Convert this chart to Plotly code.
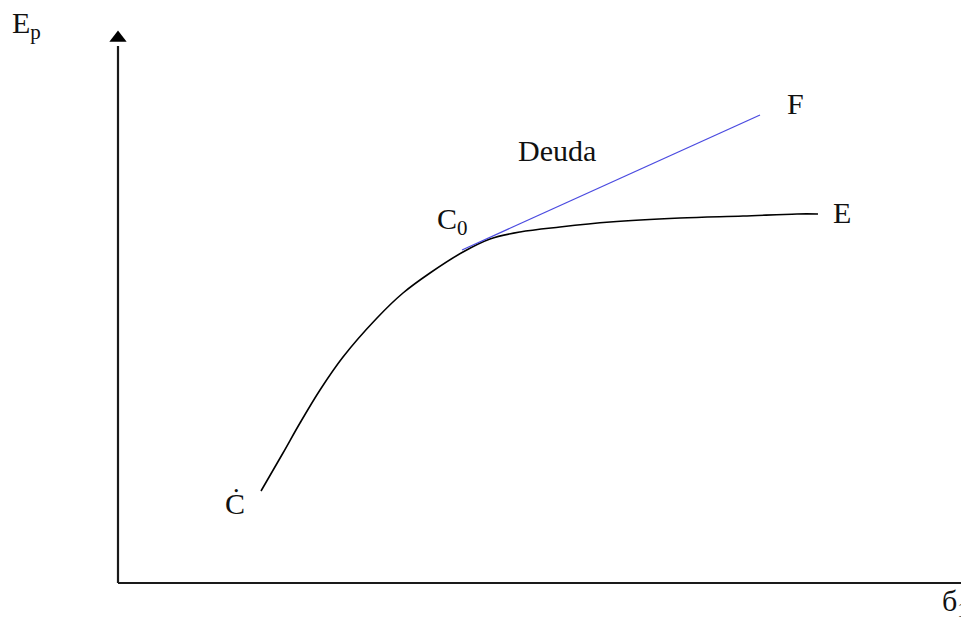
import plotly.graph_objects as go

# Data (origin at the axes corner, y upward, pixel-like units)
curve_x = [143, 165, 182, 202, 225, 259, 285, 312, 345, 372, 402, 442, 492, 562, 625, 679, 700]
curve_y = [92, 130, 160, 193, 226, 265, 290, 310, 331, 344, 351, 356, 361, 365, 367, 369, 369]
debt_x = [344, 642]
debt_y = [333, 468]
x_axis_end = 855
y_axis_end = 545

labels = ["E<sub>p</sub>", "C<sub>0</sub>", "Ċ", "Deuda", "F", "E", "б<sub>1</sub>"]
label_x = [-108, 317, 105, 398, 667, 713, 822]
label_y = [558, 362, 80, 433, 480, 371, -20]

fig = go.Figure()

# axes
fig.add_trace(go.Scatter(x=[0, 0], y=[0, y_axis_end - 8], mode="lines",
                         line=dict(color="#1a1a1a", width=2.2), hoverinfo="skip"))
fig.add_trace(go.Scatter(x=[0, x_axis_end - 6], y=[0, 0], mode="lines",
                         line=dict(color="#1a1a1a", width=2.2), hoverinfo="skip",
                         cliponaxis=False))
fig.add_trace(go.Scatter(x=[0], y=[y_axis_end], mode="markers",
                         marker=dict(symbol="triangle-up", size=15, color="#000"),
                         hoverinfo="skip"))
fig.add_trace(go.Scatter(x=[x_axis_end], y=[0], mode="markers",
                         marker=dict(symbol="triangle-right", size=15, color="#000"),
                         hoverinfo="skip", cliponaxis=False))

# curve C - C0 - E
fig.add_trace(go.Scatter(x=curve_x, y=curve_y, mode="lines",
                         line=dict(color="#000", width=1.6, shape="spline", smoothing=1.0),
                         hoverinfo="skip"))
# debt line C0 - F
fig.add_trace(go.Scatter(x=debt_x, y=debt_y, mode="lines",
                         line=dict(color="#4b4be0", width=1.3), hoverinfo="skip"))

for t, lx, ly in zip(labels, label_x, label_y):
    fig.add_annotation(x=lx, y=ly, text=t, showarrow=False, xanchor="left", yanchor="middle",
                       font=dict(family="Liberation Serif", size=30, color="#111"))

# page body has an 8px margin, so the figure is 8px smaller than the window
fig.update_layout(
    width=961, height=614, margin=dict(l=0, r=0, t=0, b=0),
    paper_bgcolor="white", plot_bgcolor="white", showlegend=False,
    xaxis=dict(range=[-110, 851], visible=False, fixedrange=True),
    yaxis=dict(range=[-39, 575], visible=False, fixedrange=True),
)
fig.write_html("out.html")
